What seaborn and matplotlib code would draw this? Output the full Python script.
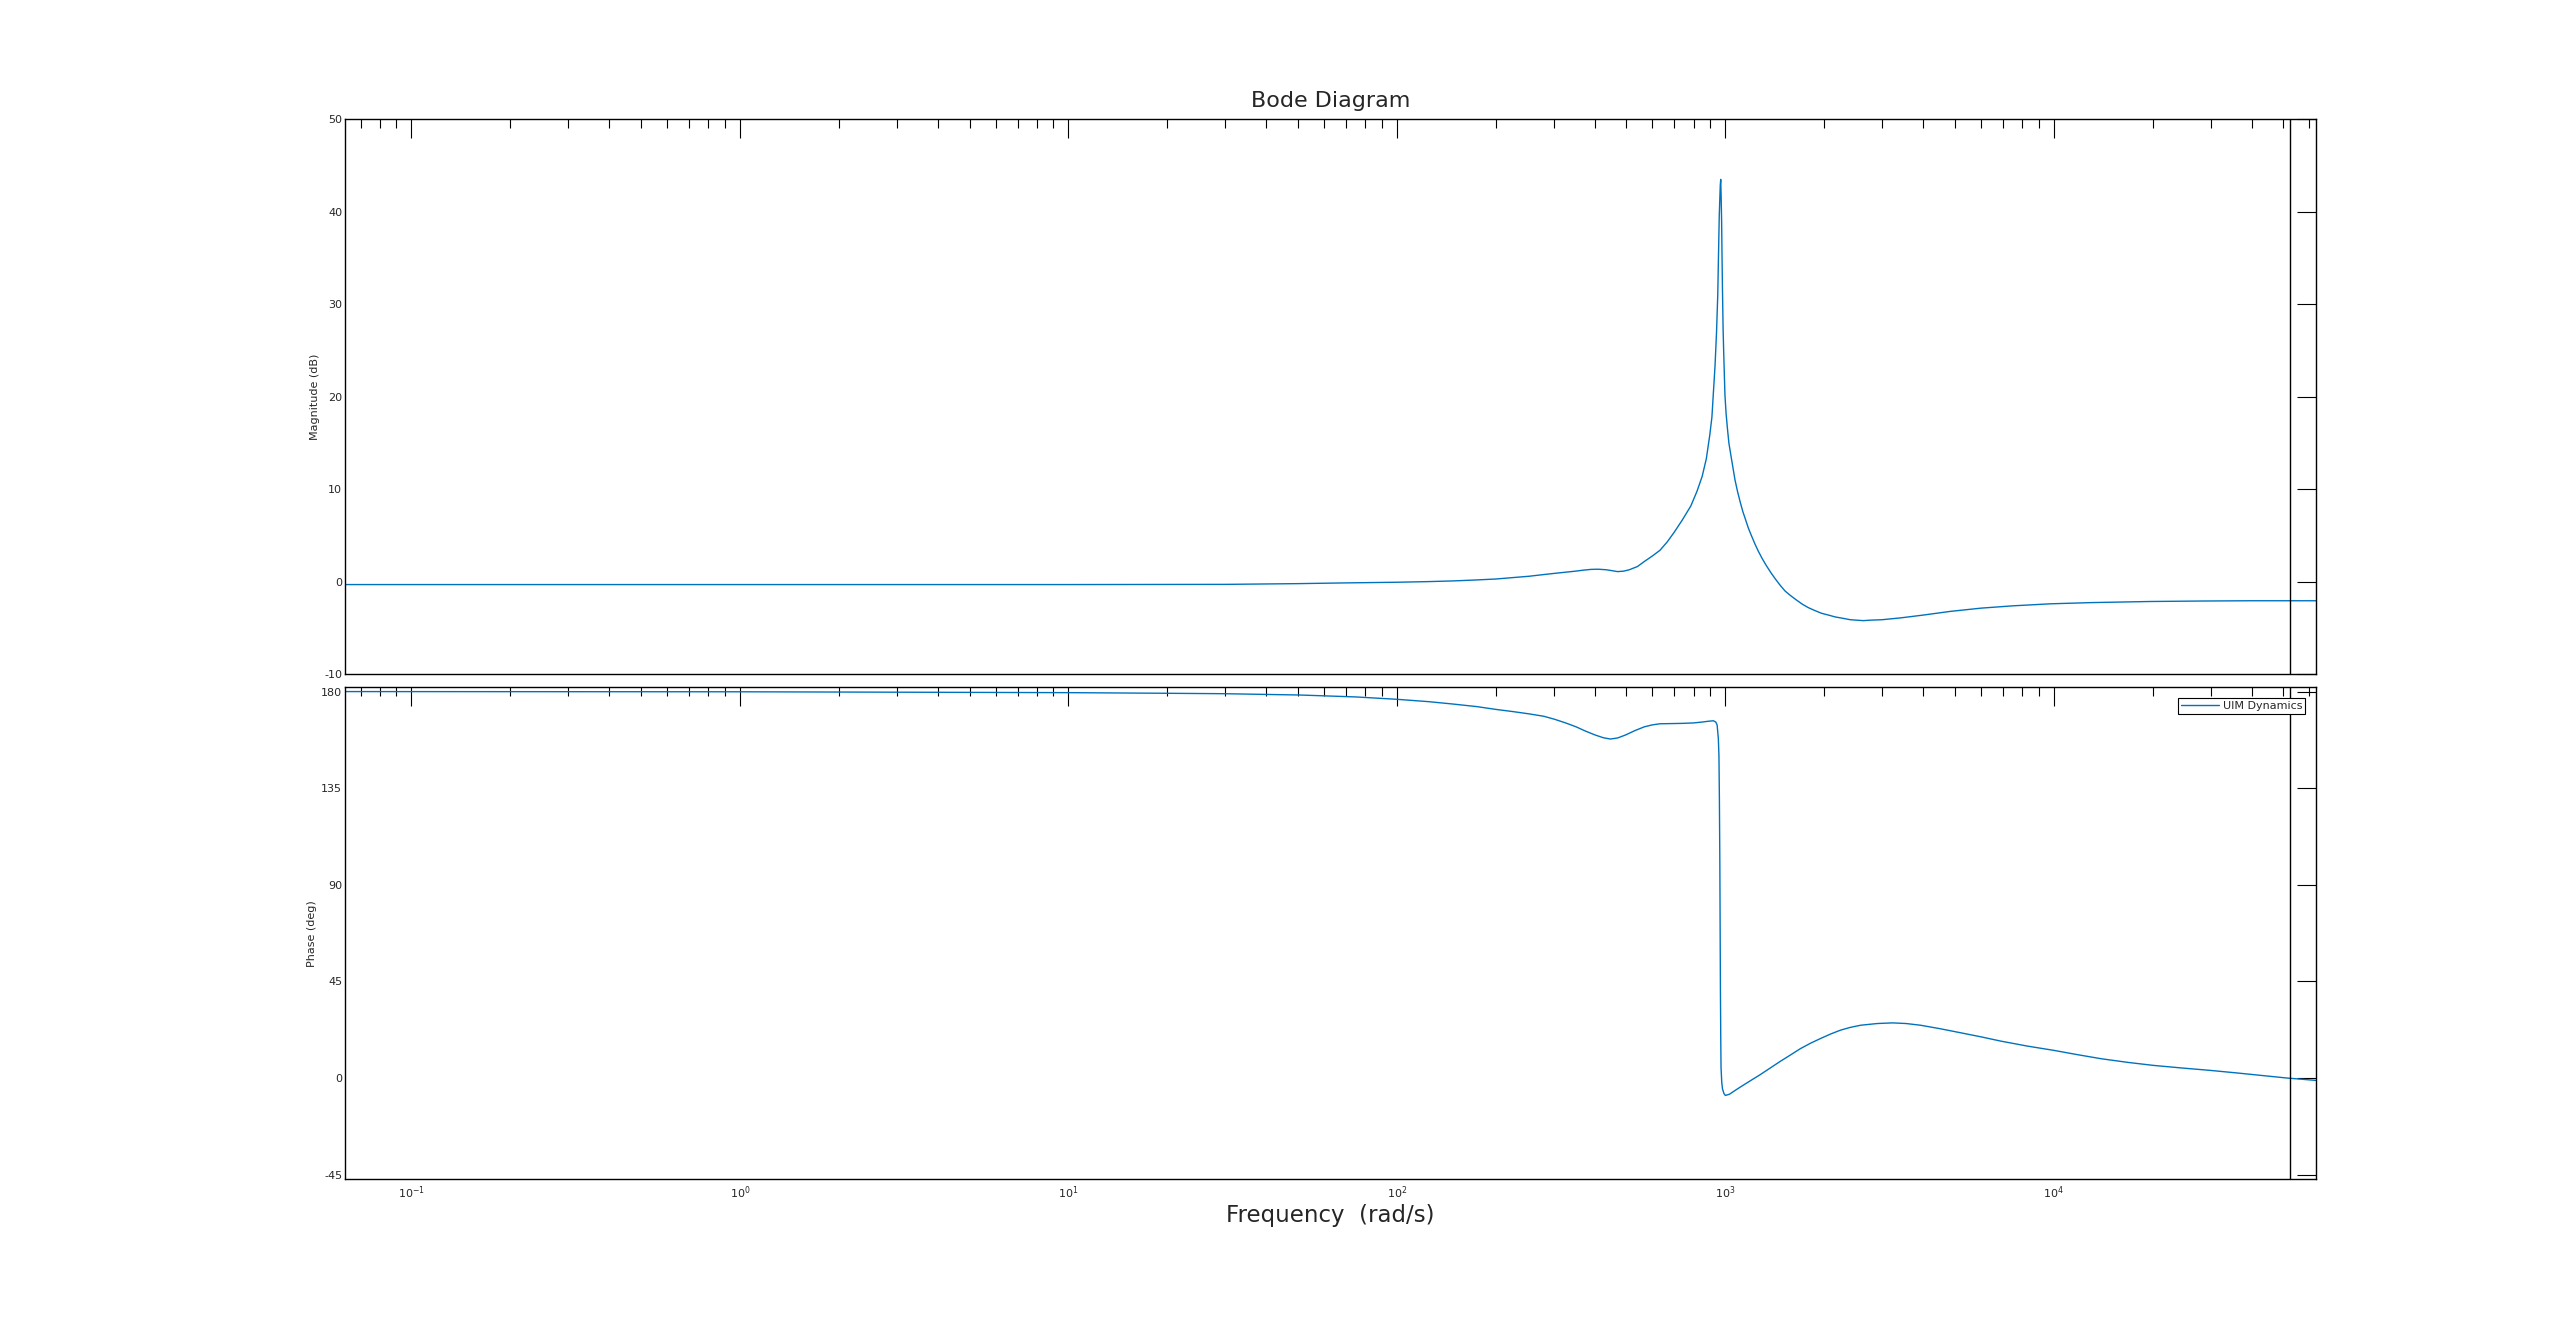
import numpy as np
import pandas as pd
import matplotlib
matplotlib.use("Agg")
import matplotlib.pyplot as plt
import matplotlib.ticker as mticker
import seaborn as sns

# magnitude response (rad/s, dB)
mag_freq = [0.0628, 1, 10, 30, 50, 70, 100, 125, 150, 175, 200, 225, 253, 275,
            300, 325, 350, 370, 390, 410, 434, 452, 470, 490, 510, 540, 567, 600,
            632, 665, 700, 740, 785, 820, 850, 875, 896, 910, 920, 930, 940, 948,
            955, 958, 962, 965, 968, 971, 974, 977, 980, 984, 988, 993, 997, 1005,
            1015, 1025, 1038, 1055, 1070, 1090, 1110, 1130, 1150, 1175, 1200, 1230,
            1260, 1295, 1330, 1375, 1420, 1470, 1520, 1580, 1650, 1720, 1790, 1870,
            1960, 2060, 2160, 2280, 2400, 2630, 2760, 3000, 3420, 4000, 4840, 6000,
            7500, 9780, 13000, 19700, 28000, 39800, 52360, 62832]
mag_db = [-0.3, -0.3, -0.3, -0.28, -0.2, -0.12, -0.05, 0.02, 0.1, 0.2, 0.3, 0.45, 0.6, 0.75,
          0.9, 1.03, 1.15, 1.26, 1.34, 1.36, 1.3, 1.2, 1.1, 1.15, 1.3, 1.65, 2.2, 2.8,
          3.4, 4.3, 5.4, 6.7, 8.2, 9.8, 11.4, 13.3, 15.8, 17.8, 20.6, 23.3, 27.0, 31.0,
          37.0, 39.5, 41.5, 42.9, 43.5, 41.5, 39.0, 35.0, 31.5, 27.5, 25.0, 22.3, 20.2, 18.2,
          16.5, 15.0, 13.8, 12.3, 11.0, 9.7, 8.6, 7.6, 6.8, 5.8, 5.0, 4.1,
          3.3, 2.5, 1.8, 1.0, 0.3, -0.4, -1.0, -1.5, -2.0, -2.45, -2.8, -3.1,
          -3.4, -3.6, -3.8, -3.95, -4.1, -4.2, -4.15, -4.1, -3.9, -3.6, -3.2, -2.85,
          -2.6, -2.38, -2.25, -2.13, -2.08, -2.05, -2.05, -2.05]

# phase response (rad/s, deg)
ph_freq = [0.0628, 1, 10, 20, 30, 50.6, 75, 100, 125, 148, 175, 200, 225, 253,
           280, 302, 325, 351, 375, 401, 425, 447, 470, 497, 530, 567, 600, 632,
           690, 743, 800, 849, 890, 920, 935, 944, 952, 956, 959, 962, 964, 966,
           968, 970, 975, 980, 990, 1000, 1030, 1060, 1110, 1190, 1277, 1370, 1470,
           1580, 1692, 1815, 1947, 2090, 2240, 2400, 2580, 2900, 3230, 3550, 3930,
           4500, 5200, 6000, 6900, 8300, 10000, 11800, 13940, 16800, 20100, 24500,
           29800, 36000, 43000, 51400, 62832]
ph_deg = [180, 179.9, 179.5, 179.2, 179.0, 178.4, 177.5, 176.4, 175.3, 174.2, 173.0, 171.7, 170.7, 169.6,
          168.5, 167.1, 165.5, 163.6, 161.6, 159.8, 158.5, 157.9, 158.4, 159.8, 161.8, 163.6, 164.5, 165.0,
          165.1, 165.2, 165.4, 165.8, 166.2, 166.4, 165.8, 164.4, 158, 150, 130, 100, 70, 40,
          20, 5, -2, -5, -7.2, -8.1, -7.5, -6.2, -4.2, -1.3, 1.6, 4.7, 7.8,
          10.8, 13.7, 16.2, 18.4, 20.5, 22.3, 23.6, 24.6, 25.4, 25.7, 25.4, 24.6,
          23.0, 21.1, 19.2, 17.2, 14.9, 12.9, 10.9, 9.0, 7.3, 5.9, 4.7,
          3.6, 2.4, 1.2, 0.0, -1.1]

nyquist = 52360  # rad/s
freq_lim = (0.0628, 62832)
freq_ticks = [0.1, 1, 10, 100, 1000, 10000]
mag_ticks = [-10, 0, 10, 20, 30, 40, 50]
ph_ticks = [-45, 0, 45, 90, 135, 180]

line_color = "#0072BD"

sns.set_style("white")
plt.rcParams['font.family'] = ['DejaVu Sans']
plt.rcParams['axes.unicode_minus'] = False

fig = plt.figure(figsize=(25.6, 13.25), dpi=100)
ax_mag = fig.add_axes([0.1348, 0.4911, 0.7699, 0.4189])
ax_ph = fig.add_axes([0.1348, 0.1102, 0.7699, 0.3711])

df_mag = pd.DataFrame({"freq": mag_freq, "mag": mag_db})
df_ph = pd.DataFrame({"freq": ph_freq, "phase": ph_deg})

sns.lineplot(data=df_mag, x="freq", y="mag", ax=ax_mag, color=line_color,
             linewidth=1.0, estimator=None, sort=False, legend=False)
sns.lineplot(data=df_ph, x="freq", y="phase", ax=ax_ph, color=line_color,
             linewidth=1.0, estimator=None, sort=False, label="UIM Dynamics")

for ax in (ax_mag, ax_ph):
    ax.set_xscale("log")
    ax.set_xticks(freq_ticks)
    ax.xaxis.set_minor_locator(mticker.LogLocator(base=10, subs=np.arange(2, 10)))
    ax.xaxis.set_minor_formatter(mticker.NullFormatter())
    ax.set_xlim(freq_lim)
    ax.axvline(nyquist, color="black", linewidth=1.0)
    ax.tick_params(which="both", direction="in", top=True, right=True,
                   color="black", width=0.8, labelsize=8, pad=2)
    ax.tick_params(which="major", length=13.7)
    ax.tick_params(which="minor", length=6.5)
    for s in ax.spines.values():
        s.set_color("black")
        s.set_linewidth(1.0)

ax_mag.set_ylim(-10, 50)
ax_mag.set_yticks(mag_ticks)
ax_mag.set_xlabel("")
ax_mag.xaxis.label.set_visible(False)
ax_mag.tick_params(axis="x", which="both", labelbottom=False)
ax_mag.set_ylabel("Magnitude (dB)", fontsize=8, labelpad=3)
ax_mag.set_title("Bode Diagram", fontsize=16, pad=9)

ax_ph.set_ylim(-47, 182)
ax_ph.set_yticks(ph_ticks)
ax_ph.tick_params(axis="x", which="major", pad=4)
ax_ph.set_ylabel("Phase (deg)", fontsize=8, labelpad=3)
ax_ph.set_xlabel("Frequency  (rad/s)", fontsize=16.5, labelpad=2)

leg = ax_ph.legend(loc="upper right", fontsize=8, frameon=True, fancybox=False,
                   edgecolor="black", framealpha=1, handlelength=3.4,
                   handletextpad=0.35, borderpad=0.25, borderaxespad=1.0)
leg.get_frame().set_linewidth(0.8)

fig.savefig("out.png", dpi=100, facecolor="white")
